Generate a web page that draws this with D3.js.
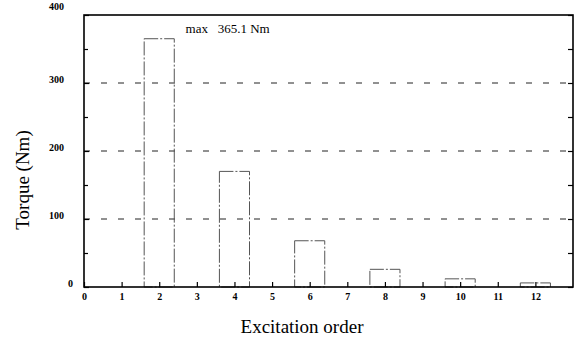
<!DOCTYPE html>
<html>
<head>
<meta charset="utf-8">
<script src="https://cdn.jsdelivr.net/npm/d3@7"></script>
<style>
  body { margin: 0; background: #fff; }
  text { font-family: "Liberation Serif", "DejaVu Serif", serif; }
</style>
</head>
<body>
<svg id="chart"></svg>
<script>
// excitation orders and their torque amplitude (Nm)
const orders = [2, 4, 6, 8, 10, 12]
const torque = [365.1, 170, 68, 26, 12, 6]

const yMajor = [0, 100, 200, 300, 400]
const yMinor = [50, 150, 250, 350]
const yGrid = [100, 200, 300]
const xTicks = [0, 1, 2, 3, 4, 5, 6, 7, 8, 9, 10, 11, 12]
const maxLabel = "max   365.1 Nm"

const width = 583, height = 341
const margin = {top: 15, right: 10, bottom: 54, left: 84}
const w = width - margin.left - margin.right
const h = height - margin.top - margin.bottom

const x = d3.scaleLinear().domain([0, 13]).range([0, w])
const y = d3.scaleLinear().domain([0, 400]).range([h, 0])

const svg = d3.select("#chart")
    .attr("width", width)
    .attr("height", height)

const g = svg.append("g")
    .attr("transform", `translate(${margin.left},${margin.top})`)

// dashed grid lines
g.selectAll(".grid")
  .data(yGrid)
  .join("line")
    .attr("class", "grid")
    .attr("x1", 0)
    .attr("x2", w)
    .attr("y1", d => y(d))
    .attr("y2", d => y(d))
    .attr("stroke", "#222")
    .attr("stroke-width", 1)
    .attr("stroke-dasharray", "6,11")

// bars: outlines only
g.selectAll(".bar")
  .data(orders)
  .join("rect")
    .attr("class", "bar")
    .attr("x", d => x(d - 0.4))
    .attr("width", x(0.8) - x(0))
    .attr("y", (d, i) => y(torque[i]))
    .attr("height", (d, i) => y(0) - y(torque[i]))
    .attr("fill", "none")
    .attr("stroke", "#555")
    .attr("stroke-width", 1)
    .attr("stroke-dasharray", "14,2,2,2")

// left axis, inward ticks
const yLeft = g.append("g")
    .call(d3.axisLeft(y).tickValues(yMajor).tickSizeInner(-5).tickSizeOuter(0).tickPadding(20))
yLeft.select(".domain").remove()
yLeft.selectAll("text")
    .attr("font-size", 10)
    .attr("font-weight", "bold")
    .attr("font-family", "Liberation Serif")
    .attr("dy", d => d === 400 ? "-0.6em" : "-0.1em")
    .attr("dx", d => d === 0 ? 9 : 0)
g.append("g")
    .call(d3.axisLeft(y).tickValues(yMinor).tickSize(-4).tickFormat(""))
    .select(".domain").remove()

// right axis, inward ticks
const yRight = g.append("g")
    .attr("transform", `translate(${w},0)`)
    .call(d3.axisRight(y).tickValues(yMajor.concat(yMinor)).tickSize(-5).tickFormat(""))
yRight.select(".domain").remove()

// bottom axis, ticks pointing up
const xAxis = g.append("g")
    .attr("transform", `translate(0,${h})`)
    .call(d3.axisBottom(x).tickValues(xTicks).tickSizeInner(-5).tickSizeOuter(0).tickPadding(6))
xAxis.select(".domain").remove()
xAxis.selectAll("text")
    .attr("font-size", 10)
    .attr("font-weight", "bold")
    .attr("font-family", "Liberation Serif")

g.selectAll(".tick line")
    .attr("stroke", "#000")
    .attr("stroke-width", 1.2)

// frame
g.append("rect")
    .attr("x", 0)
    .attr("y", 0)
    .attr("width", w)
    .attr("height", h)
    .attr("fill", "none")
    .attr("stroke", "#000")
    .attr("stroke-width", 1.6)

// max annotation
g.append("text")
    .attr("x", x(2.7))
    .attr("y", 18)
    .attr("font-size", 13)
    .attr("xml:space", "preserve")
    .style("white-space", "pre")
    .text(maxLabel)

// axis titles
svg.append("text")
    .attr("x", 302)
    .attr("y", 333)
    .attr("text-anchor", "middle")
    .attr("font-size", 19)
    .text("Excitation order")

svg.append("text")
    .attr("transform", `translate(29,${180}) rotate(-90)`)
    .attr("text-anchor", "middle")
    .attr("font-size", 19)
    .text("Torque (Nm)")
</script>
</body>
</html>
